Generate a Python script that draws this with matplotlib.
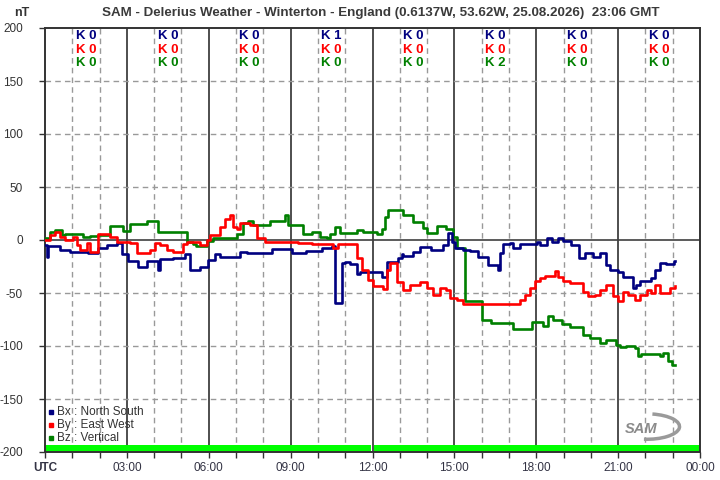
import matplotlib
matplotlib.use("Agg")
import matplotlib.pyplot as plt
from matplotlib.patches import Arc

plt.rcParams['font.family'] = ['Liberation Sans', 'DejaVu Sans']

# ---------------- data ----------------
bx_t = [0.0, 0.06, 0.12, 0.55, 0.92, 1.59, 1.95, 2.26, 2.63, 2.81, 3.05, 3.42, 3.72, 4.15, 4.21,
        4.70, 5.13, 5.31, 5.68, 5.98, 6.23, 6.41, 7.14, 7.39, 8.30, 9.04, 9.58, 10.14, 10.50,
        10.62, 10.87, 10.99, 11.17, 11.42, 11.54, 12.33, 12.52, 12.94, 13.07, 13.13, 13.49,
        13.74, 14.16, 14.59, 14.77, 14.90, 15.02, 15.32, 15.57, 15.87, 16.24, 16.60, 16.69,
        16.79, 17.03, 17.15, 17.40, 18.01, 18.13, 18.38, 18.56, 18.80, 18.99, 19.29, 19.57,
        19.78, 20.08, 20.33, 20.57, 20.70, 21.00, 21.18, 21.55, 21.67, 21.79, 22.22, 22.34,
        22.53, 22.77, 23.04, 23.10]
bx_v = [-5, -16, -6, -9.5, -11, -12, -7.5, -5, -3, -13, -20, -25, -20, -28, -18,
        -17, -13, -28, -25, -19, -13, -16, -11, -12, -8.5, -12.5, -10, -8, -6,
        -59, -22, -20.5, -23, -32, -30, -35, -20.5, -17, -13.5, -15, -11,
        -7, -9.5, -5, 6.5, -1.5, -8, -9.5, -10, -16, -24, -28.5, -12.6,
        -4, -3, -8, -3.8, -1.6, -4.7, 1.6, -1.6, 1.6, -0.6, -4.7, -17,
        -12.6, -15.7, -12.6, -23.6, -28, -30, -34.6, -45, -42, -39, -36, -28,
        -22, -23, -19.5, -19.5]

by_t = [0.0, 0.18, 0.37, 0.55, 0.73, 1.04, 1.16, 1.28, 1.53, 1.65, 1.95, 2.38, 2.63, 3.11, 3.36,
        3.85, 4.03, 4.21, 4.46, 4.70, 5.07, 5.19, 5.68, 5.92, 6.04, 6.41, 6.59, 6.78, 6.90,
        7.02, 7.14, 7.51, 7.75, 8.06, 8.67, 9.28, 9.77, 10.56, 10.75, 11.42, 11.60, 11.84,
        12.03, 12.39, 12.52, 12.64, 12.88, 13.13, 13.37, 13.74, 13.98, 14.22, 14.47, 14.71,
        14.83, 15.08, 15.32, 16.79, 17.40, 17.58, 17.77, 17.95, 18.13, 18.32, 18.68, 18.80,
        18.99, 19.23, 19.72, 19.90, 20.15, 20.33, 20.57, 20.82, 21.00, 21.18, 21.36, 21.61,
        21.79, 22.04, 22.22, 22.34, 22.53, 22.65, 22.89, 23.08]
by_v = [0, 5, 8, 3, 0, 3, -5, -9.4, -3, -11, 6, 3, -1.5, -3, -12.5,
        -9, -3, -5, -9.4, -11, -4, -1.5, -4.7, 0, 4.7, 12.6, 20, 23.6, 12.6,
        10, 15.7, 14, 2, -2.2, -1.6, -3, -4, -7.5, -4, -17, -28, -37.7,
        -43, -46, -28, -22, -40, -47, -42, -40, -45, -52, -45, -47,
        -55, -57, -60, -60.4, -56.6, -52, -45.6, -39, -36, -34, -29, -35,
        -39, -41, -49, -53, -52, -47, -42, -53, -58, -49, -52, -56.6,
        -52, -47, -50, -42, -49.6, -50, -45.6, -43.6]

bz_t = [0.0, 0.18, 0.37, 0.61, 0.73, 1.40, 1.65, 1.95, 2.38, 2.87, 3.11, 3.72, 4.15, 5.19, 5.43,
        5.55, 5.92, 6.17, 7.02, 7.26, 7.45, 7.63, 8.24, 8.79, 8.91, 9.46, 9.77, 10.07, 10.32,
        10.44, 10.62, 10.81, 11.42, 11.66, 12.15, 12.33, 12.46, 12.58, 13.13, 13.49, 13.86,
        13.98, 14.35, 14.71, 14.96, 15.08, 15.38, 16.00, 16.36, 17.15, 17.83, 18.25, 18.44,
        18.62, 18.93, 19.23, 19.72, 19.96, 20.33, 20.57, 20.94, 21.06, 21.30, 21.61, 21.73,
        21.85, 22.53, 22.65, 22.83, 22.96, 23.08]
bz_v = [1.5, 8, 9.4, 5, 6, 2.5, 4, 5, 13, 8.8, 15, 18, 8, -1.5, -4,
        -6, -1, 1.6, 6, 15.7, 18, 14, 18, 23.6, 14, 6, 8, 3, 1.6,
        6, 12, 7, 9, 8, 6, 10, 22, 28, 23.6, 17, 11,
        7, 13, 10, 3, -8, -58, -75, -78, -84, -77, -81, -72,
        -75, -79, -81.7, -89.6, -92, -97, -94, -99, -100.6, -100, -102, -109.4,
        -108, -109, -106.5, -114, -118, -118]

block_hours = [0, 3, 6, 9, 12, 15, 18, 21]
k_bx = [0, 0, 0, 1, 0, 0, 0, 0]
k_by = [0, 0, 0, 0, 0, 0, 0, 0]
k_bz = [0, 0, 0, 0, 0, 2, 0, 0]

xtick_hours = [0, 3, 6, 9, 12, 15, 18, 21, 24]
xtick_labels = ['UTC', '03:00', '06:00', '09:00', '12:00', '15:00', '18:00', '21:00', '00:00']
ytick_vals = [200, 150, 100, 50, 0, -50, -100, -150, -200]

legend_labels = ['Bx : North South', 'By : East West', 'Bz : Vertical']

title = 'SAM - Delerius Weather - Winterton - England (0.6137W, 53.62W, 25.08.2026)  23:06 GMT'

# ---------------- style ----------------
c_bx = '#000080'
c_by = '#ff0000'
c_bz = '#008000'
txt = '#333333'

fig = plt.figure(figsize=(7.2, 4.8), dpi=100)
ax = fig.add_axes([45/720, 1-452/480, 655/720, 424/480])
ax.set_xlim(0, 24)
ax.set_ylim(-200, 200)

# grid
for h in range(1, 24):
    if h % 3 == 0:
        ax.axvline(h, color='#404040', lw=1.3, zorder=1)
    else:
        ax.axvline(h, color='#999999', lw=1.0, ls=(0, (4, 3)), zorder=1)
for v in ytick_vals[1:-1]:
    if v == 0:
        ax.axhline(0, color='#404040', lw=1.2, zorder=1)
    else:
        ax.axhline(v, color='#999999', lw=1.0, ls=(0, (4, 3)), zorder=1)

# activity bar (two halves of the day, tiny gap at 12:00)
ax.bar([5.98, 18.02], [7, 7], width=11.93, bottom=-200, color='#00ff00', zorder=2)

# traces
ax.plot(bx_t, bx_v, drawstyle='steps-post', color=c_bx, lw=1.9, zorder=5)
ax.plot(by_t, by_v, drawstyle='steps-post', color=c_by, lw=1.9, zorder=6)
ax.plot(bz_t, bz_v, drawstyle='steps-post', color=c_bz, lw=1.9, zorder=4)

# K indices
for b, kx, ky, kz in zip(block_hours, k_bx, k_by, k_bz):
    xc = b + 1.5
    ax.text(xc, 192, f'K {kx}', color=c_bx, ha='center', va='center', fontsize=9.5, fontweight='bold', zorder=7)
    ax.text(xc, 179.5, f'K {ky}', color=c_by, ha='center', va='center', fontsize=9.5, fontweight='bold', zorder=7)
    ax.text(xc, 167, f'K {kz}', color=c_bz, ha='center', va='center', fontsize=9.5, fontweight='bold', zorder=7)

# axes, ticks
for s in ax.spines.values():
    s.set_color('#333333')
    s.set_linewidth(1.4)
ax.set_yticks(ytick_vals)
ax.set_yticklabels([str(v) for v in ytick_vals], color=txt, fontsize=8.5)
ax.set_xticks(xtick_hours)
ax.set_xticklabels(xtick_labels, color='#333344', fontsize=8.5)
ax.get_xticklabels()[0].set_fontweight('bold')
ax.set_xticks(range(0, 25), minor=True)
ax.tick_params(axis='both', which='major', length=4, width=1, color='#333333')
ax.tick_params(axis='x', which='minor', length=4, width=1, color='#333333')
ax.tick_params(axis='x', which='major', pad=3)
ax.tick_params(axis='y', which='major', pad=12)

# legend
for i, (lab, c) in enumerate(zip(legend_labels, [c_bx, c_by, c_bz])):
    yv = -162 - i * 12.3
    ax.plot([0.22], [yv], marker='s', ms=2.2, color=c, zorder=8, clip_on=False)
    ax.text(0.45, yv, lab, color=txt, fontsize=8.5, va='center', ha='left', zorder=8)

# logo
ax.text(21.85, -178, 'SAM', color='#8a8a8a', fontsize=10.5, fontstyle='italic', fontweight='bold',
        ha='center', va='center', zorder=3)
ax.add_patch(Arc((22.05, -176), 2.4, 24, theta1=-90.5, theta2=89, color='#9a9a9a', lw=2.5, zorder=3))

fig.text(22/720, 1-13/480, 'nT', color=txt, fontsize=9, fontweight='bold', ha='center', va='center')
fig.text(381/720, 1-13/480, title, color='#3a3a3a', fontsize=9.6, fontweight='bold', ha='center', va='center')

fig.savefig('out.png', dpi=100, facecolor='white')
